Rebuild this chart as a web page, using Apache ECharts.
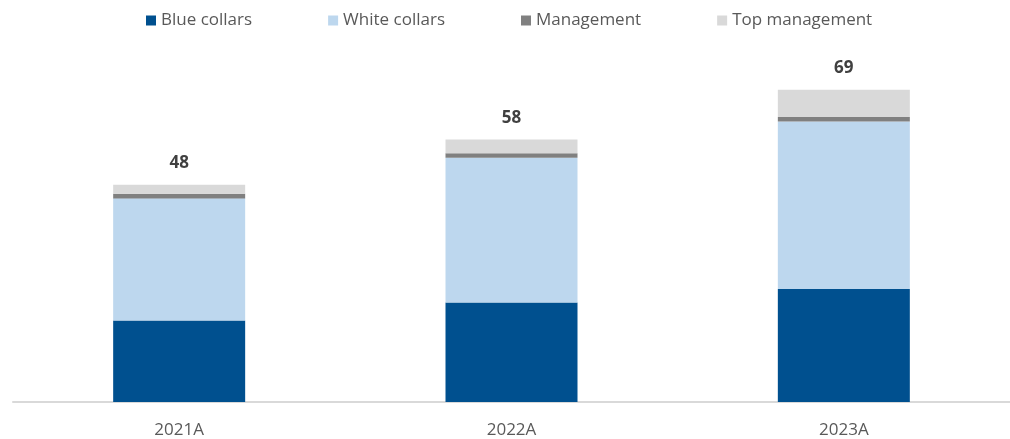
<!DOCTYPE html>
<html>
<head>
<meta charset="utf-8">
<script src="https://cdn.jsdelivr.net/npm/echarts@6/dist/echarts.min.js"></script>
<style>
  html, body { margin: 0; padding: 0; background: #ffffff; }
  #chart { width: 1010px; height: 439px; }
</style>
</head>
<body>
<div id="chart"></div>
<script>
// Headcount by category (thousands), stacked per year
const years = ['2021A', '2022A', '2023A'];
const blueCollars = [18, 22, 25];
const whiteCollars = [27, 32, 37];
const management = [1, 1, 1];
const topManagement = [2, 3, 6];

const totals = years.map((_, i) =>
  blueCollars[i] + whiteCollars[i] + management[i] + topManagement[i]);

const FONT = '"Open Sans", sans-serif';

function barSeries(name, data, color, extra) {
  return Object.assign({
    name: name,
    type: 'bar',
    stack: 'total',
    data: data,
    barWidth: 132,
    itemStyle: { color: color },
    emphasis: { disabled: true }
  }, extra || {});
}

const chart = echarts.init(document.getElementById('chart'), null, { renderer: 'canvas' });

chart.setOption({
  animation: false,
  backgroundColor: '#ffffff',
  textStyle: { fontFamily: FONT },
  legend: {
    top: 7,
    left: 141,
    itemWidth: 10,
    itemHeight: 10,
    itemGap: 76,
    icon: 'rect',
    textStyle: { fontFamily: FONT, fontSize: 17, color: '#595959' },
    data: ['Blue collars', 'White collars', 'Management', 'Top management']
  },
  grid: { left: 13, right: 0, top: 40, bottom: 36 },
  xAxis: {
    type: 'category',
    data: years,
    axisLine: { lineStyle: { color: '#d9d9d9', width: 2 } },
    axisTick: { show: false },
    axisLabel: { fontFamily: FONT, fontSize: 17, color: '#595959', margin: 20 }
  },
  yAxis: {
    type: 'value',
    min: 0,
    max: 80,
    show: false,
    splitLine: { show: false }
  },
  series: [
    barSeries('Blue collars', blueCollars, '#00508f'),
    barSeries('White collars', whiteCollars, '#bdd7ee'),
    barSeries('Management', management, '#808080'),
    barSeries('Top management', topManagement, '#d9d9d9', {
      label: {
        show: true,
        position: 'top',
        distance: 13,
        fontFamily: FONT,
        fontSize: 17,
        fontWeight: 'bold',
        color: '#404040',
        formatter: p => String(totals[p.dataIndex])
      }
    })
  ]
});
</script>
</body>
</html>
